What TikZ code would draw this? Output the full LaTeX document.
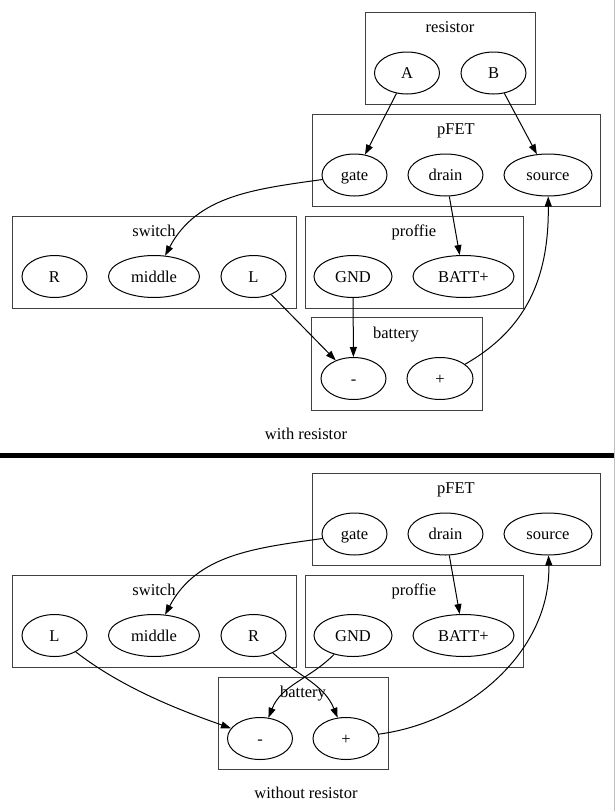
\documentclass[tikz,border=0pt]{standalone}
\usepackage{fontspec}
\setmainfont{Liberation Serif}
\usetikzlibrary{shapes.geometric}
\usetikzlibrary{arrows.meta}

\tikzset{
  port/.style={draw,ellipse,line width=1pt,inner sep=0pt,minimum height=42pt},
  cluster/.style={draw=black!75,line width=1pt},
  wire/.style={-{Triangle[length=10pt,width=7pt]},line width=1pt},
}

\begin{document}
\begin{tikzpicture}[x=1pt,y=-1pt,font=\fontsize{16.5}{19}\selectfont,
    every node/.append style={text height=12pt,text depth=1pt}]
    \useasboundingbox (0,0) rectangle (615,811);

    % 上半部分: with resistor
    \draw[cluster] (365,12) rectangle (535,104);
    \node (lres) at (450,27) {resistor};
    \draw[cluster] (312,114) rectangle (600,206);
    \node (lfet1) at (456,129) {pFET};
    \draw[cluster] (12,216) rectangle (296,308);
    \node (lsw1) at (154,231) {switch};
    \draw[cluster] (305,216) rectangle (523,308);
    \node (lpro1) at (414,231) {proffie};
    \draw[cluster] (311,317) rectangle (482,410);
    \node (lbat1) at (396,333) {battery};

    \node[port,minimum width=65pt] (A1) at (407,73) {A};
    \node[port,minimum width=65pt] (B1) at (493.5,73) {B};
    \node[port,minimum width=65pt] (gate1) at (354.5,175) {gate};
    \node[port,minimum width=75pt] (drain1) at (445.5,175) {drain};
    \node[port,minimum width=88pt] (source1) at (548,175) {source};
    \node[port,minimum width=65pt] (R1) at (54.5,276.5) {R};
    \node[port,minimum width=91pt] (middle1) at (154,276.5) {middle};
    \node[port,minimum width=65pt] (L1) at (253.5,276.5) {L};
    \node[port,minimum width=78pt] (GND1) at (353,276.5) {GND};
    \node[port,minimum width=101pt] (BATT1) at (463.5,276.5) {BATT+};
    \node[port,minimum width=65pt] (minus1) at (353.5,378.5) {-};
    \node[port,minimum width=66pt] (plus1) at (440,378.5) {+};

    \draw[wire] (A1) -- (gate1);
    \draw[wire] (B1) -- (source1);
    \draw[wire] (gate1) to[out=188,in=62] (middle1);
    \draw[wire] (drain1) -- (BATT1);
    \draw[wire] (GND1) -- (minus1);
    \draw[wire] (L1) -- (minus1);
    \draw[wire] (plus1) .. controls (525,330) and (549,280) .. (source1);

    \node (cap1) at (306,434) {with resistor};

    % 分隔线
    \fill (0,453) rectangle (615,458);
    \draw[black!25,line width=1pt] (614.5,0) -- (614.5,811);

    % 下半部分: without resistor
    \draw[cluster] (312,473) rectangle (600,565);
    \node (lfet2) at (456,488) {pFET};
    \draw[cluster] (12,575) rectangle (296,667);
    \node (lsw2) at (154,590) {switch};
    \draw[cluster] (305,575) rectangle (523,667);
    \node (lpro2) at (414,590) {proffie};
    \draw[cluster] (218,677) rectangle (388,769);
    \node (lbat2) at (303,692) {battery};

    \node[port,minimum width=65pt] (gate2) at (354.5,534) {gate};
    \node[port,minimum width=75pt] (drain2) at (445.5,534) {drain};
    \node[port,minimum width=88pt] (source2) at (548,534) {source};
    \node[port,minimum width=65pt] (L2) at (54.5,635.5) {L};
    \node[port,minimum width=91pt] (middle2) at (154,635.5) {middle};
    \node[port,minimum width=65pt] (R2) at (253.5,635.5) {R};
    \node[port,minimum width=78pt] (GND2) at (353,635.5) {GND};
    \node[port,minimum width=101pt] (BATT2) at (463.5,635.5) {BATT+};
    \node[port,minimum width=65pt] (minus2) at (260,738.5) {-};
    \node[port,minimum width=66pt] (plus2) at (346,738.5) {+};

    \draw[wire] (gate2) to[out=188,in=62] (middle2);
    \draw[wire] (drain2) -- (BATT2);
    \draw[wire] (L2) .. controls (125,690) and (185,712) .. (minus2);
    \draw[wire] (R2) to[out=-42,in=112] (plus2);
    \draw[wire] (GND2) to[out=-135,in=68] (minus2);
    \draw[wire] (plus2) .. controls (470,722) and (551,650) .. (source2);

    \node (cap2) at (306,793) {without resistor};
\end{tikzpicture}
\end{document}
